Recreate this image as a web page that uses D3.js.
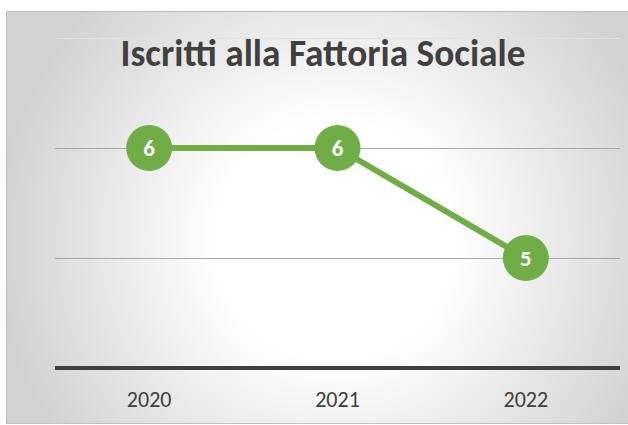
<!DOCTYPE html>
<html>
<head>
<meta charset="utf-8">
<script src="https://cdn.jsdelivr.net/npm/d3@7"></script>
<style>
  html, body { margin: 0; padding: 0; background: #fff; }
  svg { display: block; font-family: Carlito, "Open Sans", "Noto Sans", sans-serif; }
</style>
</head>
<body>
<svg class="chart" width="628" height="425"></svg>
<script>
const years = ["2020", "2021", "2022"];
const iscritti = [6, 6, 5];
const yTicks = [4, 5, 6, 7];
const title = "Iscritti alla Fattoria Sociale";

const svg = d3.select(".chart"),
  frame = { x: 6.5, y: 11.5, w: 640, h: 412 },
  plot = { left: 55, right: 620, top: 38, bottom: 368 },
  green = "#70ad47";

const defs = svg.append("defs");
const grad = defs
  .append("radialGradient")
  .attr("id", "bg")
  .attr("gradientUnits", "userSpaceOnUse")
  .attr("cx", 335)
  .attr("cy", 240)
  .attr("r", 340);
grad.append("stop").attr("offset", "0%").attr("stop-color", "#ffffff");
grad.append("stop").attr("offset", "35%").attr("stop-color", "#ffffff");
grad.append("stop").attr("offset", "100%").attr("stop-color", "#d2d2d2");

svg
  .append("rect")
  .attr("x", frame.x)
  .attr("y", frame.y)
  .attr("width", frame.w)
  .attr("height", frame.h)
  .attr("fill", "url(#bg)")
  .attr("stroke", "#bfbfbf")
  .attr("stroke-width", 1);

const x = d3
  .scalePoint()
  .domain(years)
  .range([plot.left, plot.right])
  .padding(0.5);

const y = d3.scaleLinear().domain([4, 7]).range([plot.bottom, plot.top]);

// gridlines
svg
  .append("g")
  .selectAll("line")
  .data(yTicks.filter((t) => t > 4))
  .join("line")
  .attr("x1", plot.left)
  .attr("x2", plot.right)
  .attr("y1", (d) => y(d) + 0.5)
  .attr("y2", (d) => y(d) + 0.5)
  .attr("stroke", (d) => (d === 7 ? "#e2e2e2" : "#a8a8a8"))
  .attr("stroke-width", 1);

// baseline
svg
  .append("line")
  .attr("x1", plot.left)
  .attr("x2", plot.right)
  .attr("y1", y(4))
  .attr("y2", y(4))
  .attr("stroke", "#404040")
  .attr("stroke-width", 4);

// x labels
svg
  .append("g")
  .selectAll("text")
  .data(years)
  .join("text")
  .attr("x", (d) => x(d))
  .attr("y", 407)
  .attr("text-anchor", "middle")
  .attr("font-size", 22)
  .attr("font-weight", "normal")
  .attr("fill", "#404040")
  .text((d) => d);

// title
const titleText = svg
  .append("text")
  .attr("x", 323)
  .attr("y", 66)
  .attr("text-anchor", "middle")
  .attr("font-weight", "bold")
  .attr("font-size", 30)
  .attr("fill", "#404040")
  .text(title);
const tw = titleText.node().getComputedTextLength();
titleText.attr("font-size", (30 * 405) / tw);

const points = years.map((yr, i) => ({ year: yr, value: iscritti[i] }));

svg
  .append("path")
  .datum(points)
  .attr("fill", "none")
  .attr("stroke", green)
  .attr("stroke-width", 6)
  .attr("stroke-linejoin", "round")
  .attr(
    "d",
    d3
      .line()
      .x((d) => x(d.year))
      .y((d) => y(d.value))
  );

const marker = svg
  .append("g")
  .selectAll("g")
  .data(points)
  .join("g")
  .attr("transform", (d) => `translate(${x(d.year)},${y(d.value)})`);

marker.append("circle").attr("r", 23).attr("fill", green);

marker
  .append("text")
  .attr("text-anchor", "middle")
  .attr("dy", "0.36em")
  .attr("font-size", 23)
  .attr("font-weight", "bold")
  .attr("fill", "#ffffff")
  .text((d) => d.value);
</script>
</body>
</html>
